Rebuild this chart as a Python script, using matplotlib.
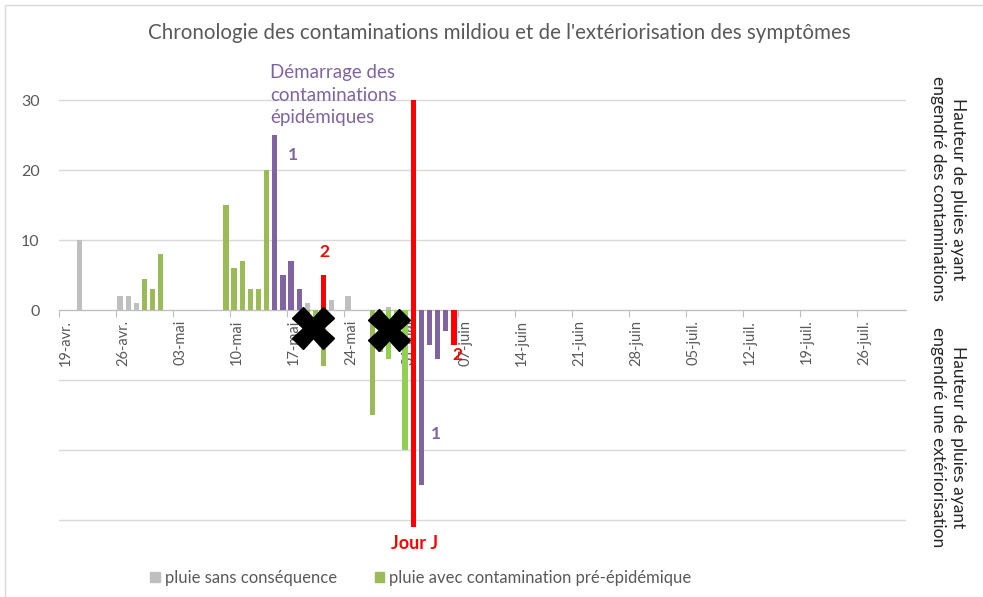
import matplotlib.pyplot as plt
from matplotlib.patches import Rectangle, Patch

#------------------------------------------------- DATA -----------------------------------------------------------
# jours comptes depuis le 19 avril, hauteur de pluie en mm
# positif = pluie ayant engendre une contamination, negatif = pluie ayant engendre une exteriorisation
semaines = ['19-avr.', '26-avr.', '03-mai', '10-mai', '17-mai', '24-mai', '31-mai', '07-juin',
            '14-juin', '21-juin', '28-juin', '05-juil.', '12-juil.', '19-juil.', '26-juil.']

gris_jours = [2, 7, 8, 9, 30, 33, 35, 40]
gris_mm = [10, 2, 2, 1, 1, 1.5, 2, 0.5]

vert_jours = [10, 11, 12, 20, 21, 22, 23, 24, 25]
vert_mm = [4.5, 3, 8, 15, 6, 7, 3, 3, 20]

epi_jours = [26, 27, 28, 29]
epi_mm = [25, 5, 7, 3]

rouge_jours = [32]
rouge_mm = [5]

ext_vert_jours = [30, 31, 32, 38, 39]
ext_vert_mm = [-4, -3, -8, -15, -6]

ext_vert2_jours = [40, 41, 42]
ext_vert2_mm = [-7, -4, -20]

ext_epi_jours = [44, 45, 46, 47]
ext_epi_mm = [-25, -5, -7, -3]

ext_rouge_jours = [48]
ext_rouge_mm = [-5]

jour_j = 43
jour_j_haut = 30
jour_j_bas = -31

#------------------------------------------------- STYLE ----------------------------------------------------------
GRIS = '#BFBFBF'
VERT = '#9BBB59'
VERT2 = '#92D050'
VIOLET = '#8064A2'
ROUGE = '#FF0000'
TXT = '#595959'
w = 0.65

plt.rcParams['font.family'] = ['Lato', 'DejaVu Sans']

fig = plt.figure(figsize=(9.83, 5.97), dpi=100)
ax = fig.add_axes([59/983, 1-527/597, 847/983, 434/597])

def barres(jours, mm, c):
    ax.bar([j + 0.5 for j in jours], mm, width=w, color=c, zorder=3)

barres(gris_jours, gris_mm, GRIS)
barres(vert_jours, vert_mm, VERT)
barres(epi_jours, epi_mm, VIOLET)
barres(rouge_jours, rouge_mm, ROUGE)
barres(ext_vert_jours, ext_vert_mm, VERT)
barres(ext_vert2_jours, ext_vert2_mm, VERT2)
barres(ext_epi_jours, ext_epi_mm, VIOLET)
barres(ext_rouge_jours, ext_rouge_mm, ROUGE)

# jour J
jj = ax.bar([jour_j + 0.5, jour_j + 0.5], [jour_j_haut, jour_j_bas], width=w, color=ROUGE, zorder=4)
for b in jj:
    b.set_clip_on(False)

# axes
ax.set_xlim(0, 104)
ax.set_ylim(-31, 31)
ax.set_yticks(range(-30, 31, 10))
ax.set_yticklabels(['' if v < 0 else str(v) for v in range(-30, 31, 10)])
ax.set_xticks(range(0, 7*len(semaines), 7))
ax.set_xticklabels(semaines)
ax.grid(axis='y', color='#D9D9D9', lw=1, zorder=0)
for s in ['top', 'right', 'left']:
    ax.spines[s].set_visible(False)
ax.spines['bottom'].set_position(('data', 0))
ax.spines['bottom'].set_color('#BFBFBF')
ax.spines['bottom'].set_zorder(2)
ax.tick_params(axis='y', length=0, pad=14, labelsize=11.5, labelcolor=TXT)
ax.tick_params(axis='x', length=5, color='#BFBFBF', labelsize=10.5, labelcolor=TXT, pad=2, labelrotation=90)
for t in ax.get_xticklabels():
    t.set_va('top')
    t.set_ha('left')

# annotations
ax.text(25.9, 35.1, 'Démarrage des\ncontaminations\népidémiques', color=VIOLET, fontsize=13.5,
        ha='left', va='top', linespacing=1.4)
ax.text(28.75, 22.1, '1', color=VIOLET, fontsize=12.5, fontweight='bold', ha='center', va='center')
ax.text(46.3, -17.7, '1', color=VIOLET, fontsize=12.5, fontweight='bold', ha='center', va='center')
ax.text(32.6, 8.3, '2', color=ROUGE, fontsize=12.5, fontweight='bold', ha='center', va='center')
ax.text(48.9, -6.4, '2', color=ROUGE, fontsize=12.5, fontweight='bold', ha='center', va='center', zorder=5)
ax.text(43.6, -33.4, 'Jour J', color=ROUGE, fontsize=13, fontweight='bold', ha='center', va='center')
ax.plot([31.2, 40.5], [-2.6, -2.9], ls='none', marker='X', ms=30, color='black', mec='black', zorder=6,
        clip_on=False)

# textes de droite
ax.text(1.05, 17.3, 'Hauteur de pluies ayant\nengendré des contaminations', transform=ax.get_yaxis_transform(),
        rotation=-90, ha='center', va='center', fontsize=12.5, color='#262626', multialignment='center',
        linespacing=1.3)
ax.text(1.05, -18.1, 'Hauteur de pluies ayant\nengendré une extériorisation', transform=ax.get_yaxis_transform(),
        rotation=-90, ha='center', va='center', fontsize=12.5, color='#262626', multialignment='center',
        linespacing=1.3)

# titre
fig.text(0.508, 1-33/597, "Chronologie des contaminations mildiou et de l'extériorisation des symptômes",
         ha='center', va='center', fontsize=14.8, color=TXT)

# legende
h = [Patch(color=GRIS, label='pluie sans conséquence'),
     Patch(color=VERT, label='pluie avec contamination pré-épidémique')]
fig.legend(handles=h, loc='center', bbox_to_anchor=(421/983, 1-578/597), ncol=2, frameon=False,
           fontsize=12, labelcolor=TXT, handlelength=0.55, handleheight=0.55, handletextpad=0.3, columnspacing=2.3)

# cadre du graphique
fig.patches.append(Rectangle((5/983, -0.1), 1.2, 1.1 - 5/597, transform=fig.transFigure, fill=False,
                             ec='#D9D9D9', lw=1))

fig.savefig('out.png', dpi=100)
